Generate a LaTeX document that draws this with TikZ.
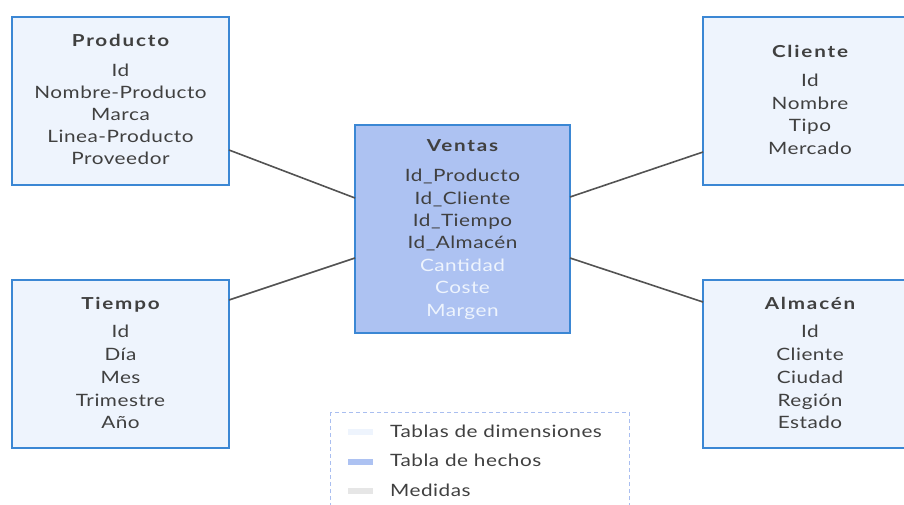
\documentclass[tikz,border=0pt]{standalone}
\usepackage{fontspec}
\setmainfont{Lato}
\newfontfamily\itmfont[FakeStretch=1.22, LetterSpace=3]{Lato}
\newfontfamily\ttlfont[FakeStretch=1.25, LetterSpace=11]{Lato Bold}
\usetikzlibrary{positioning}
\definecolor{bordblue}{HTML}{3B87D4}
\definecolor{dimfill}{HTML}{EEF4FD}
\definecolor{factfill}{HTML}{ADC2F2}
\definecolor{txt}{HTML}{404040}
\definecolor{legbord}{HTML}{A9BEF0}
\definecolor{medfill}{HTML}{E6E6E6}
\tikzset{
  x=1pt, y=-1pt,
  tablebox/.style={draw=bordblue, line width=2.8pt, fill=dimfill},
  facttable/.style={draw=bordblue, line width=2.8pt, fill=factfill},
  ttl/.style={font=\fontsize{16.5}{18}\ttlfont, text=txt, inner sep=0pt, text height=12pt, text depth=0pt},
  itm/.style={font=\fontsize{17}{18}\itmfont, text=txt, inner sep=0pt, text height=12pt, text depth=0pt},
  msr/.style={itm, text=dimfill},
  link/.style={draw=txt!90, line width=1.6pt},
  swatch/.style={inner sep=0pt, minimum width=25pt, minimum height=6pt},
  legtxt/.style={itm, anchor=west},
}
\begin{document}
\begin{tikzpicture}
\useasboundingbox (0,0) rectangle (904,504);
\clip (0,0) rectangle (904,504);
% boxes
\path[tablebox] (12,17) rectangle (229,185);
\coordinate (prod) at (229,150);
\path[tablebox] (703,17) rectangle (920,185);
\coordinate (cli) at (703,152);
\path[tablebox] (12,280) rectangle (229,448);
\coordinate (tie) at (229,300);
\path[tablebox] (703,280) rectangle (920,448);
\coordinate (alm) at (703,302);
\path[facttable] (355,125) rectangle (570,333);
\coordinate (vpl) at (355,198);
\coordinate (vcl) at (570,197);
\coordinate (vtl) at (355,258);
\coordinate (val) at (570,258);
% connectors
\draw[link] (prod) -- (vpl);
\draw[link] (cli) -- (vcl);
\draw[link] (tie) -- (vtl);
\draw[link] (alm) -- (val);
% Producto
\node[ttl] (p0) at (120.5,40) {Producto};
\node[itm] (p1) at (120.5,70) {Id};
\node[itm] (p2) at (120.5,92) {Nombre-Producto};
\node[itm] (p3) at (120.5,114) {Marca};
\node[itm] (p4) at (120.5,136) {Linea-Producto};
\node[itm] (p5) at (120.5,158) {Proveedor};
% Cliente
\node[ttl] (c0) at (810,51) {Cliente};
\node[itm] (c1) at (810,80) {Id};
\node[itm] (c2) at (810,103) {Nombre};
\node[itm] (c3) at (810,125) {Tipo};
\node[itm] (c4) at (810,148) {Mercado};
% Ventas
\node[ttl] (v0) at (462.5,145) {Ventas};
\node[itm] (v1) at (462.5,175) {Id\_Producto};
\node[itm] (v2) at (462.5,198) {Id\_Cliente};
\node[itm] (v3) at (462.5,220) {Id\_Tiempo};
\node[itm] (v4) at (462.5,242) {Id\_Almacén};
\node[msr] (v5) at (462.5,265) {Cantidad};
\node[msr] (v6) at (462.5,287) {Coste};
\node[msr] (v7) at (462.5,310) {Margen};
% Tiempo
\node[ttl] (t0) at (120.5,303) {Tiempo};
\node[itm] (t1) at (120.5,331) {Id};
\node[itm] (t2) at (120.5,354) {Día};
\node[itm] (t3) at (120.5,377) {Mes};
\node[itm] (t4) at (120.5,400) {Trimestre};
\node[itm] (t5) at (120.5,422) {Año};
% Almacen
\node[ttl] (a0) at (810,303) {Almacén};
\node[itm] (a1) at (810,331) {Id};
\node[itm] (a2) at (810,354) {Cliente};
\node[itm] (a3) at (810,377) {Ciudad};
\node[itm] (a4) at (810,400) {Región};
\node[itm] (a5) at (810,422) {Estado};
% legend
\draw[legbord, line width=1pt, dash pattern=on 4pt off 3pt] (330,412) rectangle (629,520);
\node[swatch, fill=dimfill] (s1) at (360,432) {};
\node[swatch, fill=factfill] (s2) at (360,462) {};
\node[swatch, fill=medfill] (s3) at (360,491) {};
\node[legtxt] (l1) at (390,431) {Tablas de dimensiones};
\node[legtxt] (l2) at (390,460) {Tabla de hechos};
\node[legtxt] (l3) at (390,490) {Medidas};
\end{tikzpicture}
\end{document}
